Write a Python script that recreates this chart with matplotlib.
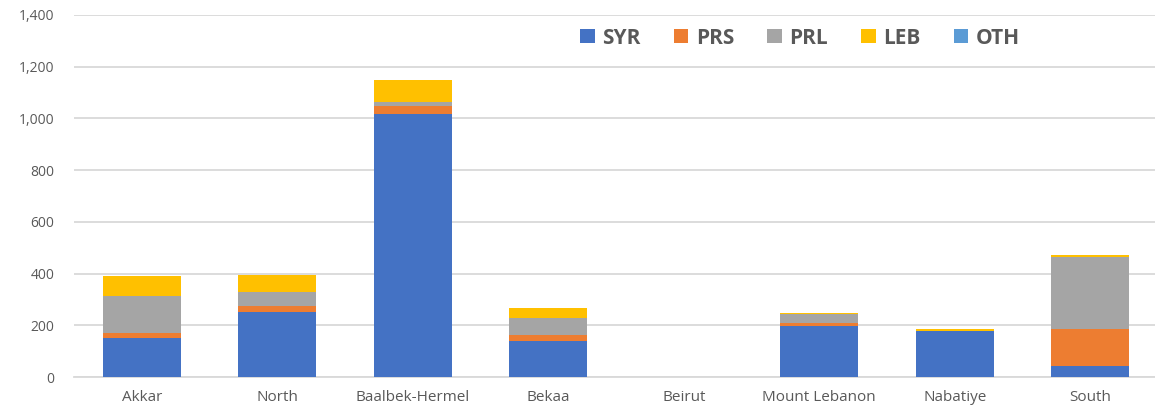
import matplotlib
matplotlib.use("Agg")
import matplotlib.pyplot as plt
import numpy as np
from matplotlib.ticker import FuncFormatter

categories = ["Akkar", "North", "Baalbek-Hermel", "Bekaa", "Beirut",
              "Mount Lebanon", "Nabatiye", "South"]
series_names = ["SYR", "PRS", "PRL", "LEB", "OTH"]
syr = [152, 252, 1017, 138, 0, 198, 179, 43]
prs = [17, 21, 32, 26, 0, 12, 0, 141]
prl = [145, 57, 13, 65, 0, 33, 0, 281]
leb = [78, 66, 86, 37, 0, 4, 7, 7]
oth = [0, 0, 0, 0, 0, 0, 0, 0]
colors = ["#4472C4", "#ED7D31", "#A5A5A5", "#FFC000", "#5B9BD5"]
y_ticks = [0, 200, 400, 600, 800, 1000, 1200, 1400]

W, H = 1155, 411
fig = plt.figure(figsize=(W / 100, H / 100), dpi=100)
ax = fig.add_axes([74 / W, 34 / H, 1084 / W, 362 / H])

x = np.arange(len(categories))
bottom = np.zeros(len(categories))
handles = []
for name, vals, c in zip(series_names, [syr, prs, prl, leb, oth], colors):
    vals = np.array(vals, dtype=float)
    b = ax.bar(x, vals, 0.572, bottom=bottom, color=c, label=name,
               linewidth=0, zorder=3)
    handles.append(b)
    bottom += vals

ax.set_xlim(-0.5, len(categories) - 0.5)
ax.set_ylim(0, 1400)
ax.set_yticks(y_ticks)
ax.yaxis.set_major_formatter(FuncFormatter(lambda v, p: f"{int(v):,}"))
ax.grid(axis="y", color="#d9d9d9", linewidth=1.3, zorder=0)
ax.set_axisbelow(True)
for s in ["top", "right", "left"]:
    ax.spines[s].set_visible(False)
ax.spines["bottom"].set_color("#d9d9d9")
ax.spines["bottom"].set_linewidth(1.3)
ax.set_xticks(x)
ax.set_xticklabels(categories)
ax.tick_params(axis="both", length=0, colors="#595959")
ax.tick_params(axis="y", pad=14, labelsize=10)
ax.tick_params(axis="x", pad=9, labelsize=11)
for lab in ax.get_xticklabels() + ax.get_yticklabels():
    lab.set_fontfamily("Open Sans")

leg = fig.legend(handles=handles, labels=series_names, ncol=5,
                 loc="center", bbox_to_anchor=(800 / W, 1 - 38 / H),
                 frameon=False, handlelength=0.7, handleheight=0.7,
                 handletextpad=0.35, columnspacing=1.6,
                 prop={"family": "Open Sans", "weight": "bold", "size": 15})
for t in leg.get_texts():
    t.set_color("#595959")

fig.savefig("out.png", dpi=100)
